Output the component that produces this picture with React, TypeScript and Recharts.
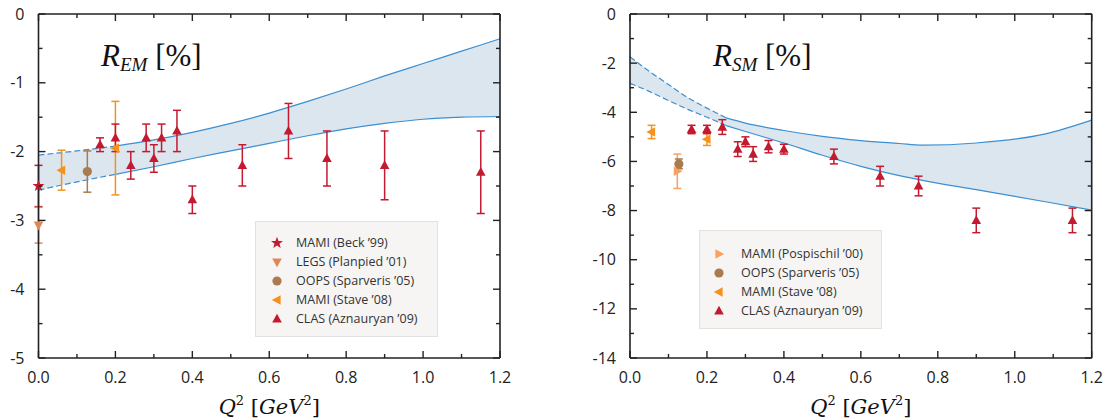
import React from "react"
import { Area, ComposedChart, ErrorBar, Label, Legend, Line, Scatter, XAxis, YAxis } from "recharts"

// axis ticks
const xTicks = [0, 0.1, 0.2, 0.3, 0.4, 0.5, 0.6, 0.7, 0.8, 0.9, 1.0, 1.1, 1.2]
const emTicks = [-5, -4.5, -4, -3.5, -3, -2.5, -2, -1.5, -1, -0.5, 0]
const smTicks = [-14, -13, -12, -11, -10, -9, -8, -7, -6, -5, -4, -3, -2, -1, 0]

// theory bands
const emBandQ = [0, 0.1, 0.2, 0.3, 0.4, 0.5, 0.6, 0.7, 0.8, 0.9, 1.0, 1.1, 1.2]
const emUpper = [-2.05, -1.99, -1.92, -1.83, -1.72, -1.59, -1.44, -1.27, -1.09, -0.9, -0.72, -0.54, -0.36]
const emLower = [-2.56, -2.44, -2.33, -2.22, -2.1, -1.99, -1.88, -1.77, -1.67, -1.59, -1.53, -1.5, -1.49]

const smBandQ = [0, 0.05, 0.1, 0.15, 0.2, 0.25, 0.3, 0.4, 0.5, 0.6, 0.7, 0.76, 0.9, 1.08, 1.2]
const smUpper = [-1.74, -2.33, -2.87, -3.4, -3.83, -4.23, -4.44, -4.74, -4.98, -5.15, -5.27, -5.34, -5.25, -4.88, -4.32]
const smLower = [-2.82, -3.15, -3.52, -3.88, -4.2, -4.54, -4.78, -5.25, -5.75, -6.2, -6.58, -6.77, -7.15, -7.64, -7.98]

// R_EM data
const emBeck = [{ q: 0, v: -2.5, err: 0.3 }]
const emLegs = [{ q: 0, v: -3.07, err: 0.26 }]
const emOops = [{ q: 0.127, v: -2.29, err: 0.3 }]
const emStave = [
  { q: 0.06, v: -2.27, err: 0.29 },
  { q: 0.2, v: -1.95, err: 0.68 },
]
const emClas = [
  { q: 0.16, v: -1.9, err: 0.1 },
  { q: 0.2, v: -1.8, err: 0.2 },
  { q: 0.24, v: -2.2, err: 0.2 },
  { q: 0.28, v: -1.8, err: 0.2 },
  { q: 0.3, v: -2.1, err: 0.2 },
  { q: 0.32, v: -1.8, err: 0.2 },
  { q: 0.36, v: -1.7, err: 0.3 },
  { q: 0.4, v: -2.7, err: 0.2 },
  { q: 0.53, v: -2.2, err: 0.3 },
  { q: 0.65, v: -1.7, err: 0.4 },
  { q: 0.75, v: -2.1, err: 0.4 },
  { q: 0.9, v: -2.2, err: 0.5 },
  { q: 1.15, v: -2.3, err: 0.6 },
]

// R_SM data
const smPospischil = [{ q: 0.123, v: -6.4, err: 0.7 }]
const smOops = [{ q: 0.127, v: -6.1, err: 0.2 }]
const smStave = [
  { q: 0.056, v: -4.8, err: 0.27 },
  { q: 0.2, v: -5.1, err: 0.25 },
]
const smClas = [
  { q: 0.16, v: -4.7, err: 0.17 },
  { q: 0.2, v: -4.7, err: 0.17 },
  { q: 0.24, v: -4.6, err: 0.3 },
  { q: 0.28, v: -5.5, err: 0.3 },
  { q: 0.3, v: -5.2, err: 0.2 },
  { q: 0.32, v: -5.7, err: 0.3 },
  { q: 0.36, v: -5.4, err: 0.25 },
  { q: 0.4, v: -5.5, err: 0.2 },
  { q: 0.53, v: -5.8, err: 0.3 },
  { q: 0.65, v: -6.6, err: 0.4 },
  { q: 0.75, v: -7.0, err: 0.4 },
  { q: 0.9, v: -8.4, err: 0.5 },
  { q: 1.15, v: -8.4, err: 0.5 },
]

const RED = "#c41a30"
const AXIS = "#222"
const BAND_FILL = "#dce6ef"
const BAND_LINE = "#3b8fd2"
const TICK_FONT = '"Open Sans", sans-serif'

type Pt = { q: number; v: number; err: number }
type Series = { name: string; data: Pt[]; color: string; shape: string }

const emSeries: Series[] = [
  { name: "MAMI (Beck ’99)", data: emBeck, color: RED, shape: "star" },
  { name: "LEGS (Planpied ’01)", data: emLegs, color: "#e0875a", shape: "down" },
  { name: "OOPS (Sparveris ’05)", data: emOops, color: "#a97b4f", shape: "circle" },
  { name: "MAMI (Stave ’08)", data: emStave, color: "#f5921e", shape: "left" },
  { name: "CLAS (Aznauryan ’09)", data: emClas, color: RED, shape: "up" },
]

const smSeries: Series[] = [
  { name: "MAMI (Pospischil ’00)", data: smPospischil, color: "#f9a15f", shape: "right" },
  { name: "OOPS (Sparveris ’05)", data: smOops, color: "#a97b4f", shape: "circle" },
  { name: "MAMI (Stave ’08)", data: smStave, color: "#f5921e", shape: "left" },
  { name: "CLAS (Aznauryan ’09)", data: smClas, color: RED, shape: "up" },
]

function Marker({ shape, cx, cy, color }: { shape: string; cx: number; cy: number; color: string }) {
  if (shape === "circle") return <circle cx={cx} cy={cy} r={4.6} fill={color} />
  let pts: number[][] = []
  if (shape === "star") {
    for (let i = 0; i < 10; i++) {
      const r = i % 2 === 0 ? 6.3 : 2.6
      const a = -Math.PI / 2 + (i * Math.PI) / 5
      pts.push([cx + r * Math.cos(a), cy + r * Math.sin(a)])
    }
  } else if (shape === "up") {
    pts = [[cx, cy - 5.2], [cx + 4.8, cy + 3.6], [cx - 4.8, cy + 3.6]]
  } else if (shape === "down") {
    pts = [[cx, cy + 5.2], [cx + 4.8, cy - 3.6], [cx - 4.8, cy - 3.6]]
  } else if (shape === "left") {
    pts = [[cx - 5.2, cy], [cx + 3.6, cy - 4.8], [cx + 3.6, cy + 4.8]]
  } else {
    pts = [[cx + 5.2, cy], [cx - 3.6, cy - 4.8], [cx - 3.6, cy + 4.8]]
  }
  return <polygon points={pts.map((p) => p.join(",")).join(" ")} fill={color} />
}

// inside ticks, labels only on the major ones
const isMajorX = (v: number) => Math.round(v * 10) % 2 === 0
const MAJOR = 7
const MINOR = 4

function BottomTick(props: any) {
  const { x, y, payload } = props
  const major = isMajorX(payload.value)
  return (
    <g>
      <line x1={x} x2={x} y1={y} y2={y - (major ? MAJOR : MINOR)} stroke={AXIS} strokeWidth={1.4} />
      {major && (
        <text x={x} y={y + 25} textAnchor="middle" fontFamily={TICK_FONT} fontSize={16} fill="#222">
          {payload.value.toFixed(1)}
        </text>
      )}
    </g>
  )
}

function TopTick(props: any) {
  const { x, y, payload } = props
  const major = isMajorX(payload.value)
  return <line x1={x} x2={x} y1={y} y2={y + (major ? MAJOR : MINOR)} stroke={AXIS} strokeWidth={1.4} />
}

function makeSideTicks(isMajor: (v: number) => boolean) {
  const LeftTick = (props: any) => {
    const { x, y, payload } = props
    const major = isMajor(payload.value)
    return (
      <g>
        <line x1={x} x2={x + (major ? MAJOR : MINOR)} y1={y} y2={y} stroke={AXIS} strokeWidth={1.4} />
        {major && (
          <text x={x - 14} y={y + 5.5} textAnchor="end" fontFamily={TICK_FONT} fontSize={16} fill="#222">
            {payload.value}
          </text>
        )}
      </g>
    )
  }
  const RightTick = (props: any) => {
    const { x, y, payload } = props
    const major = isMajor(payload.value)
    return <line x1={x} x2={x - (major ? MAJOR : MINOR)} y1={y} y2={y} stroke={AXIS} strokeWidth={1.4} />
  }
  return { LeftTick, RightTick }
}

function XTitle(props: any) {
  const vb = props.viewBox
  const cx = vb.x + vb.width / 2
  return (
    <text x={cx} y={vb.y + 56} textAnchor="middle" fontFamily='"DejaVu Serif", serif' fontSize={21} fill="#111">
      <tspan fontStyle="italic">Q</tspan>
      <tspan fontSize={13} dy={-9}>2</tspan>
      <tspan dy={9}> [</tspan>
      <tspan fontStyle="italic">GeV</tspan>
      <tspan fontSize={13} dy={-9}>2</tspan>
      <tspan dy={9}>]</tspan>
    </text>
  )
}

type PanelProps = {
  width: number
  yWidth: number
  marginRight: number
  yDomain: number[]
  yTicks: number[]
  yMajor: (v: number) => boolean
  bandQ: number[]
  upper: number[]
  lower: number[]
  dashUntil: number
  series: Series[]
  legendBox: { left: number; top: number; width: number; height: number; padTop: number; markerX: number; textX: number }
  title: { left: number; sub: string }
}

function Panel(p: PanelProps) {
  const band = p.bandQ.map((q, i) => ({ q, range: [p.lower[i], p.upper[i]], hi: p.upper[i], lo: p.lower[i] }))
  const dashed = band.filter((d) => d.q <= p.dashUntil + 1e-9)
  const solid = band.filter((d) => d.q >= p.dashUntil - 1e-9)
  const { LeftTick, RightTick } = makeSideTicks(p.yMajor)
  const lb = p.legendBox

  const renderLegend = () => (
    <div
      style={{
        width: lb.width,
        height: lb.height,
        boxSizing: "border-box",
        background: "#f6f5f3",
        border: "1px solid #e4e2de",
        paddingTop: lb.padTop,
        fontFamily: TICK_FONT,
        fontSize: 12.5,
        color: "#333",
      }}
    >
      {p.series.map((s) => (
        <div key={s.name} style={{ position: "relative", height: 19, lineHeight: "19px" }}>
          <svg width={16} height={16} style={{ position: "absolute", left: lb.markerX - 8, top: 1.5 }}>
            <Marker shape={s.shape} cx={8} cy={8} color={s.color} />
          </svg>
          <span style={{ position: "absolute", left: lb.textX, whiteSpace: "nowrap" }}>{s.name}</span>
        </div>
      ))}
    </div>
  )

  const axisLine = { stroke: AXIS, strokeWidth: 1.6 }

  return (
    <div style={{ position: "relative", width: p.width, height: 420 }}>
      <ComposedChart width={p.width} height={420} margin={{ top: 13, right: p.marginRight - 1, bottom: 0, left: 0 }}>
        <XAxis
          dataKey="q"
          type="number"
          domain={[0, 1.2]}
          ticks={xTicks}
          interval={0}
          tickSize={0}
          tickMargin={0}
          tick={(t: any) => <BottomTick {...t} />}
          axisLine={axisLine}
          height={62}
        >
          <Label content={XTitle} />
        </XAxis>
        <XAxis
          xAxisId="top"
          orientation="top"
          dataKey="q"
          type="number"
          domain={[0, 1.2]}
          ticks={xTicks}
          interval={0}
          tickSize={0}
          tickMargin={0}
          tick={(t: any) => <TopTick {...t} />}
          axisLine={axisLine}
          height={1}
        />
        <YAxis
          type="number"
          domain={p.yDomain}
          ticks={p.yTicks}
          interval={0}
          tickSize={0}
          tickMargin={0}
          tick={(t: any) => <LeftTick {...t} />}
          axisLine={axisLine}
          width={p.yWidth}
        />
        <YAxis
          yAxisId="right"
          orientation="right"
          type="number"
          domain={p.yDomain}
          ticks={p.yTicks}
          interval={0}
          tickSize={0}
          tickMargin={0}
          tick={(t: any) => <RightTick {...t} />}
          axisLine={axisLine}
          width={1}
        />
        <Area
          data={band}
          dataKey="range"
          type="monotone"
          stroke="none"
          fill={BAND_FILL}
          fillOpacity={1}
          isAnimationActive={false}
          legendType="none"
        />
        <Line data={dashed} dataKey="hi" type="monotone" stroke={BAND_LINE} strokeWidth={1.2} strokeDasharray="6 3" dot={false} isAnimationActive={false} legendType="none" />
        <Line data={dashed} dataKey="lo" type="monotone" stroke={BAND_LINE} strokeWidth={1.2} strokeDasharray="6 3" dot={false} isAnimationActive={false} legendType="none" />
        {/* solid parts sit on the mirrored top/right axes (same domains) so those axes get drawn */}
        <Line data={solid} dataKey="hi" xAxisId="top" yAxisId="right" type="monotone" stroke={BAND_LINE} strokeWidth={1.2} dot={false} isAnimationActive={false} legendType="none" />
        <Line data={solid} dataKey="lo" xAxisId="top" yAxisId="right" type="monotone" stroke={BAND_LINE} strokeWidth={1.2} dot={false} isAnimationActive={false} legendType="none" />
        {p.series.map((s) => (
          <Scatter
            key={s.name}
            name={s.name}
            data={s.data}
            dataKey="v"
            fill={s.color}
            isAnimationActive={false}
            shape={(sp: any) => <Marker shape={s.shape} cx={sp.cx} cy={sp.cy} color={s.color} />}
          >
            <ErrorBar dataKey="err" direction="y" width={4} stroke={s.color} strokeWidth={1.5} isAnimationActive={false} />
          </Scatter>
        ))}
        <Legend
          layout="vertical"
          align="center"
          verticalAlign="middle"
          content={renderLegend}
          wrapperStyle={{ left: lb.left, top: lb.top, width: lb.width, height: lb.height }}
        />
      </ComposedChart>
      <div
        style={{
          position: "absolute",
          left: p.title.left,
          top: 40,
          fontFamily: '"Liberation Serif", serif',
          fontSize: 31,
          lineHeight: "31px",
          color: "#111",
          whiteSpace: "nowrap",
        }}
      >
        <i>R</i>
        <i style={{ fontSize: 19, position: "relative", top: 5 }}>{p.title.sub}</i> [%]
      </div>
    </div>
  )
}

export default function App() {
  return (
    <div style={{ position: "absolute", left: 0, top: 0, width: 1107, height: 420, display: "flex", background: "#fff" }}>
      <Panel
        width={553}
        yWidth={38.5}
        marginRight={53}
        yDomain={[-5, 0]}
        yTicks={emTicks}
        yMajor={(v) => Number.isInteger(v)}
        bandQ={emBandQ}
        upper={emUpper}
        lower={emLower}
        dashUntil={0.2}
        series={emSeries}
        legendBox={{ left: 255, top: 221, width: 183, height: 116, padTop: 11, markerX: 21, textX: 40 }}
        title={{ left: 101, sub: "EM" }}
      />
      <Panel
        width={554}
        yWidth={77}
        marginRight={15.3}
        yDomain={[-14, 0]}
        yTicks={smTicks}
        yMajor={(v) => v % 2 === 0}
        bandQ={smBandQ}
        upper={smUpper}
        lower={smLower}
        dashUntil={0.25}
        series={smSeries}
        legendBox={{ left: 146, top: 230, width: 183, height: 99, padTop: 13, markerX: 19, textX: 41 }}
        title={{ left: 713 - 553, sub: "SM" }}
      />
    </div>
  )
}
